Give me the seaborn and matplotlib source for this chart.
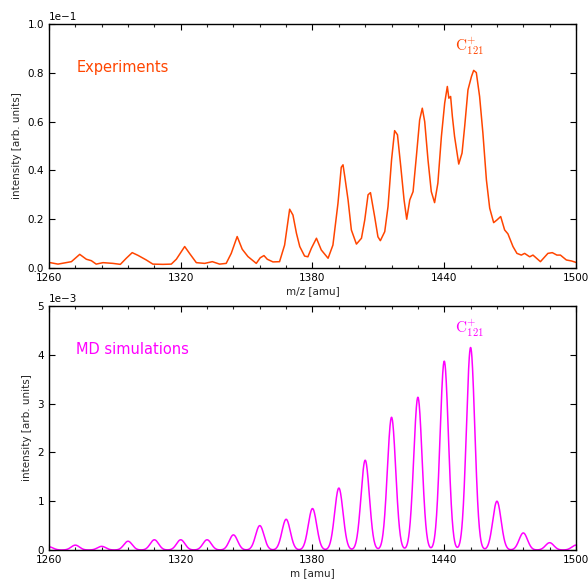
import numpy as np
import matplotlib
matplotlib.use("Agg")
import matplotlib.pyplot as plt
from matplotlib.ticker import MultipleLocator
import seaborn as sns

exp_mz = [1260.0, 1264.1, 1270.2, 1274.0, 1277.0, 1279.3, 1281.5, 1284.6, 1289.1, 1292.5,
          1295.2, 1297.9, 1300.5, 1304.3, 1307.3, 1311.9, 1315.7, 1318.0, 1321.8, 1324.0,
          1327.1, 1330.9, 1334.4, 1337.7, 1340.7, 1343.0, 1345.7, 1348.0, 1350.6, 1354.4,
          1356.2, 1357.9, 1359.4, 1362.0, 1365.0, 1367.3, 1369.6, 1371.1, 1372.7, 1374.2,
          1376.4, 1377.9, 1379.5, 1381.8, 1384.0, 1387.1, 1389.3, 1391.6, 1393.1, 1393.9,
          1394.7, 1396.2, 1397.7, 1400.0, 1402.3, 1403.8, 1405.3, 1406.4, 1408.3, 1409.8,
          1410.9, 1412.9, 1414.4, 1416.0, 1417.4, 1418.7, 1420.2, 1421.7, 1422.9, 1424.3,
          1425.8, 1427.3, 1428.8, 1430.0, 1431.1, 1432.6, 1434.1, 1435.6, 1437.1, 1438.7,
          1440.2, 1441.4, 1442.1, 1442.9, 1443.7, 1444.7, 1446.6, 1448.1, 1449.3, 1450.8,
          1452.4, 1453.4, 1454.6, 1456.1, 1457.6, 1459.2, 1460.7, 1462.5, 1464.0, 1465.7,
          1467.5, 1469.0, 1471.3, 1473.1, 1475.1, 1476.6, 1478.9, 1480.4, 1483.8, 1487.2,
          1489.2, 1491.3, 1492.9, 1495.6, 1497.9, 1500.0]
exp_int = [0.023, 0.016, 0.026, 0.056, 0.036, 0.030, 0.016, 0.022, 0.019, 0.015,
           0.040, 0.063, 0.052, 0.033, 0.016, 0.015, 0.016, 0.036, 0.088, 0.060,
           0.022, 0.019, 0.026, 0.016, 0.019, 0.060, 0.129, 0.077, 0.047, 0.019,
           0.042, 0.051, 0.036, 0.025, 0.026, 0.094, 0.241, 0.217, 0.142, 0.088,
           0.049, 0.046, 0.081, 0.122, 0.074, 0.040, 0.094, 0.265, 0.413, 0.423,
           0.375, 0.279, 0.156, 0.098, 0.122, 0.197, 0.300, 0.309, 0.211, 0.128,
           0.112, 0.149, 0.252, 0.443, 0.563, 0.546, 0.416, 0.279, 0.200, 0.279,
           0.313, 0.457, 0.607, 0.655, 0.600, 0.443, 0.313, 0.268, 0.348, 0.539,
           0.676, 0.744, 0.696, 0.703, 0.621, 0.539, 0.426, 0.471, 0.580, 0.730,
           0.785, 0.810, 0.801, 0.703, 0.553, 0.361, 0.245, 0.186, 0.197, 0.211,
           0.156, 0.140, 0.088, 0.060, 0.053, 0.060, 0.046, 0.053, 0.026, 0.060,
           0.063, 0.053, 0.053, 0.033, 0.029, 0.023]

# MD simulation: cluster peaks (mass in amu, peak height in units of 1e-3)
md_mass = [1260, 1272, 1284, 1296, 1308, 1320, 1332, 1344, 1356, 1368, 1380,
           1392, 1404, 1416, 1428, 1440, 1452, 1464, 1476, 1488, 1500]
md_height = [0.065, 0.10, 0.075, 0.18, 0.21, 0.21, 0.21, 0.31, 0.50, 0.63, 0.85,
             1.27, 1.84, 2.72, 3.13, 3.87, 4.15, 1.00, 0.35, 0.15, 0.10]
md_sigma = 1.9  # peak broadening (amu)

exp_color = '#ff4500'
md_color = '#ff00ff'

sns.set_style('ticks')
plt.rcParams['font.family'] = ['DejaVu Sans']
plt.rcParams['mathtext.fontset'] = 'cm'
plt.rcParams['xtick.direction'] = 'in'
plt.rcParams['ytick.direction'] = 'in'
plt.rcParams['xtick.top'] = True
plt.rcParams['ytick.right'] = True
plt.rcParams['font.size'] = 7.5

fig = plt.figure(figsize=(5.88, 5.80), dpi=100)
ax1 = fig.add_axes([0.0833, 0.5379, 0.8963, 0.4207])
ax2 = fig.add_axes([0.0833, 0.0517, 0.8963, 0.4207])

# top: experiments
sns.lineplot(x=exp_mz, y=np.array(exp_int) * 1e-1, ax=ax1, color=exp_color, lw=1.1)
ax1.text(1272.5, 0.082, 'Experiments', color=exp_color, fontsize=10.5, va='center')
ax1.text(1451.5, 0.091, r'$\mathrm{C}_{121}^{+}$', color=exp_color, fontsize=11, ha='center', va='center')
ax1.set_ylim(0, 0.1)
ax1.yaxis.set_major_locator(MultipleLocator(0.02))
ax1.set_xlabel('m/z [amu]')

# bottom: MD simulations
m = np.linspace(1260, 1500, 2401)
md_curve = sum(h * np.exp(-(m - c) ** 2 / (2 * md_sigma ** 2)) for c, h in zip(md_mass, md_height))
sns.lineplot(x=m, y=md_curve * 1e-3, ax=ax2, color=md_color, lw=1.1)
ax2.text(1272.5, 4.1e-3, 'MD simulations', color=md_color, fontsize=10.5, va='center')
ax2.text(1451.5, 4.55e-3, r'$\mathrm{C}_{121}^{+}$', color=md_color, fontsize=11, ha='center', va='center')
ax2.set_ylim(0, 5e-3)
ax2.yaxis.set_major_locator(MultipleLocator(1e-3))
ax2.set_xlabel('m [amu]')

for ax in (ax1, ax2):
    ax.set_xlim(1260, 1500)
    ax.xaxis.set_major_locator(MultipleLocator(60))
    ax.xaxis.set_minor_locator(MultipleLocator(12))
    ax.ticklabel_format(style='sci', axis='y', scilimits=(0, 0))
    ax.set_ylabel('intensity [arb. units]')
    ax.tick_params(which='major', length=4, width=0.8, colors='black')
    ax.tick_params(which='minor', length=2.5, width=0.8, top=True)
    ax.xaxis.labelpad = 2
    for s in ax.spines.values():
        s.set_linewidth(1.0)
        s.set_color('black')

fig.savefig('out.png', dpi=100)
